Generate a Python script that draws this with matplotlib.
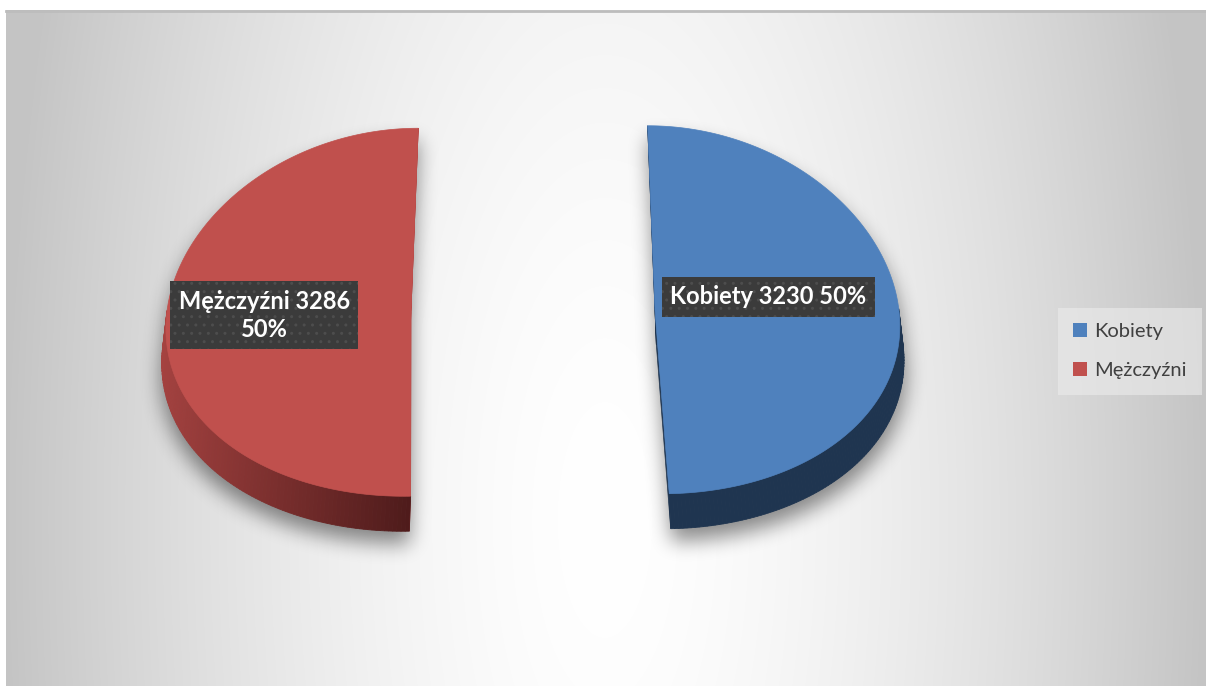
import textwrap

import matplotlib
matplotlib.use("Agg")
import matplotlib.pyplot as plt
import numpy as np
from matplotlib.colors import to_rgb
from matplotlib.patches import Patch, Polygon

# data
categories = ["Kobiety", "Mężczyźni"]
counts = [3230, 3286]
top_colors = ["#4f81bd", "#c0504d"]
side_colors = [("#1f3550", "#1f3550"), ("#a54240", "#4e1b1b")]
edge_colors = ["#1f3550", "#b04644"]

W, H = 1206, 686
fig = plt.figure(figsize=(W / 100, H / 100), dpi=100)
ax = fig.add_axes([0, 0, 1, 1])
ax.set_xlim(0, W)
ax.set_ylim(H, 0)
ax.axis("off")

# chart area with radial grey gradient
x0, y0 = 6, 10
gx, gy = np.meshgrid(np.arange(x0, W) + 0.5, np.arange(y0, H) + 0.5)
d = np.sqrt(((gx - 605) / 600) ** 2 + ((gy - 520) / 1500) ** 2)
shade = 1 - 0.23 * np.clip(d, 0, 1) ** 1.6
ax.imshow(np.dstack([shade] * 3), extent=(x0, W, H, y0), zorder=0, interpolation="bilinear")
ax.plot([x0, W], [y0 + 1, y0 + 1], color="#bdbdbd", lw=2, zorder=0.5)

# pie geometry (pixels)
cx, cy = 533, 311
R, Rv, depth = 244, 184, 35
explode = 0.5
startangle = 90
persp = 0.06  # front of the pie is drawn a little wider than the back

fracs = np.array(counts) / sum(counts)
spans = fracs * 360
his = startangle - np.concatenate([[0], np.cumsum(spans)[:-1]])
los = his - spans


def proj(x, y):
    x = np.asarray(x, dtype=float)
    y = np.asarray(y, dtype=float)
    return cx + (x - cx) * (1 + persp * (y - cy) / Rv), y


def ell(axp, ayp, t):
    t = np.radians(t)
    return axp + R * np.cos(t), ayp - Rv * np.sin(t)


pieces = []
for i in range(len(counts)):
    mid = np.radians((his[i] + los[i]) / 2)
    axp = cx + explode * R * np.cos(mid)
    ayp = cy - explode * Rv * np.sin(mid)
    pieces.append((axp, ayp, mid))

# soft drop shadow under the pieces
mask = np.zeros((H, W))
yy, xx = np.mgrid[0:H, 0:W].astype(float)
xu = cx + (xx - cx) / (1 + persp * (yy - cy) / Rv)
for i, (axp, ayp, mid) in enumerate(pieces):
    for off in np.linspace(0, depth, 6):
        u = (xu - axp) / R
        v = -(yy - (ayp + off + 12)) / Rv
        ang = np.degrees(np.arctan2(v, u))
        inside = (u ** 2 + v ** 2 <= 1) & (((ang - los[i]) % 360) <= spans[i])
        mask = np.maximum(mask, inside.astype(float))


def box_blur(a, r, axis):
    pad = [(0, 0), (0, 0)]
    pad[axis] = (r + 1, r)
    c = np.cumsum(np.pad(a, pad, mode="edge"), axis=axis)
    if axis == 0:
        return (c[2 * r + 1:] - c[:-2 * r - 1]) / (2 * r + 1)
    return (c[:, 2 * r + 1:] - c[:, :-2 * r - 1]) / (2 * r + 1)


for _ in range(3):
    mask = box_blur(box_blur(mask, 9, 0), 9, 1)
shadow = np.zeros((H, W, 4))
shadow[..., 3] = mask * 0.45
ax.imshow(shadow, extent=(0, W, H, 0), zorder=1, interpolation="bilinear")


def quad_patch(pts, col, z, lw=0.5):
    xs, ys = proj([p[0] for p in pts], [p[1] for p in pts])
    ax.add_patch(Polygon(np.column_stack([xs, ys]), closed=True, fc=col, ec=col, lw=lw, zorder=z))


# 3d pieces
for i, (axp, ayp, mid) in enumerate(pieces):
    ts = np.linspace(his[i], los[i], 200)
    px, py = ell(axp, ayp, ts)
    xmin, xmax = px.min(), px.max()
    c1, c2 = np.array(to_rgb(side_colors[i][0])), np.array(to_rgb(side_colors[i][1]))
    # radial faces
    for t in (his[i], los[i]):
        rx, ry = ell(axp, ayp, t)
        quad_patch([(axp, ayp), (rx, ry), (rx, ry + depth), (axp, ayp + depth)], edge_colors[i], 2)
    # curved side
    for k in range(len(ts) - 1):
        if np.sin(np.radians(ts[k])) > 0 and np.sin(np.radians(ts[k + 1])) > 0:
            continue
        f = ((px[k] + px[k + 1]) / 2 - xmin) / (xmax - xmin)
        col = c1 + (c2 - c1) * f
        quad_patch([(px[k], py[k]), (px[k + 1], py[k + 1]),
                    (px[k + 1], py[k + 1] + depth), (px[k], py[k] + depth)], col, 2.1, 0.6)
    top = list(zip(np.concatenate([[axp], px]), np.concatenate([[ayp], py])))
    quad_patch(top, top_colors[i], 3)

# data labels
label_dist = [0.47, 0.6]
label_dy = [-13, 3]
for i, (axp, ayp, mid) in enumerate(pieces):
    txt = textwrap.fill(f"{categories[i]} {counts[i]} {fracs[i] * 100:.0f}%", 16)
    lx, ly = proj(axp + label_dist[i] * R * np.cos(mid), ayp + label_dy[i])
    ax.text(lx, ly, txt, ha="center", va="center", color="white", fontsize=17,
            fontweight="bold", family=["Lato", "DejaVu Sans"], linespacing=1.25, zorder=6,
            bbox=dict(boxstyle="square,pad=0.36", fc="#3b3b3b", ec="#4d4d4d", lw=0, hatch=".."))

# legend
handles = [Patch(fc=c, ec="none") for c in top_colors]
leg = ax.legend(handles, categories, loc="center left", bbox_to_anchor=(0.877, 0.488),
                bbox_transform=fig.transFigure, frameon=True, fancybox=False,
                prop={"family": ["Lato", "DejaVu Sans"], "size": 14.5},
                handlelength=0.7, handleheight=0.7, handletextpad=0.35,
                labelspacing=1.1, borderpad=0.75, borderaxespad=0)
leg.get_frame().set_facecolor("#ececec")
leg.get_frame().set_alpha(0.6)
leg.get_frame().set_linewidth(0)
for t in leg.get_texts():
    t.set_color("#404040")
leg.set_zorder(7)

fig.savefig("out.png", dpi=100)
